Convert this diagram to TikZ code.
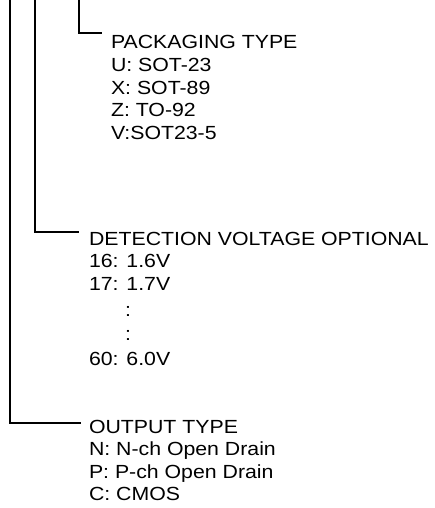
\documentclass[tikz,border=0pt]{standalone}
\usepackage{fontspec}
\setmainfont{Liberation Sans}[FakeStretch=1.12]
\begin{document}
\begin{tikzpicture}[x=1pt,y=-1pt,
  lbl/.style={anchor=base west,inner sep=0pt,outer sep=0pt,font=\fontsize{19pt}{22pt}\selectfont},
  dotrow/.style={anchor=base,inner sep=0pt,outer sep=0pt,font=\fontsize{19pt}{22pt}\selectfont},
  lead/.style={line width=2pt,black}]
\useasboundingbox (0,0) rectangle (435,508);
% packaging block
\node[lbl] (pkg) at (111,48.5) {PACKAGING TYPE};
\node[lbl] (pkgU) at (111,71.3) {U: SOT-23};
\node[lbl] (pkgX) at (111,94.1) {X: SOT-89};
\node[lbl] (pkgZ) at (111,116.9) {Z: TO-92};
\node[lbl] (pkgV) at (111,139.7) {V:SOT23-5};
% detection voltage block
\node[lbl] (det) at (89,245) {DETECTION VOLTAGE OPTIONAL};
\node[lbl] (det16) at (89,267.5) {16: 1.6V};
\node[lbl] (det17) at (89,290) {17: 1.7V};
\node[dotrow] (detd1) at (128,316) {:};
\node[dotrow] (detd2) at (128,340.5) {:};
\node[lbl] (det60) at (89,365) {60: 6.0V};
% output type block
\node[lbl] (out) at (89,433) {OUTPUT TYPE};
\node[lbl] (outN) at (89,455.5) {N: N-ch Open Drain};
\node[lbl] (outP) at (89,478) {P: P-ch Open Drain};
\node[lbl] (outC) at (89,500.5) {C: CMOS};
% leader lines
\coordinate (t1) at (10,0);
\coordinate (t2) at (35,0);
\coordinate (t3) at (79,0);
\draw[lead] (t3) |- ([xshift=-9pt,yshift=15.5pt]pkg.base west);
\draw[lead] (t2) |- ([xshift=-10pt,yshift=13pt]det.base west);
\draw[lead] (t1) |- ([xshift=-8pt,yshift=10pt]out.base west);
\end{tikzpicture}
\end{document}
